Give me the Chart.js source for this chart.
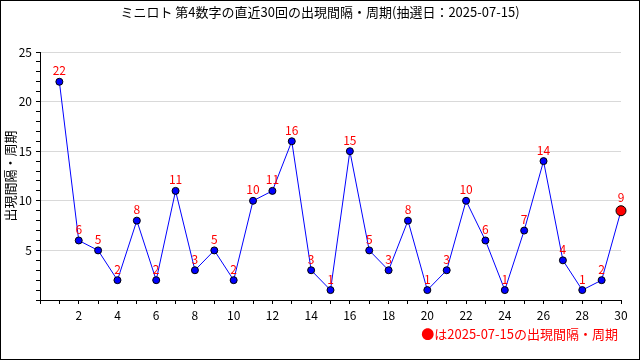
<!DOCTYPE html>
<html>
<head>
<meta charset="utf-8">
<script src="https://cdn.jsdelivr.net/npm/chart.js@4"></script>
<style>
  html, body { margin: 0; padding: 0; background: #fff; }
  #wrap { width: 640px; height: 360px; }
</style>
</head>
<body>
<div id="wrap"><canvas id="intervalChart" width="640" height="360"></canvas></div>
<script>
// 抽選回 (直近30回)
const rounds = [1, 2, 3, 4, 5, 6, 7, 8, 9, 10, 11, 12, 13, 14, 15, 16, 17, 18, 19, 20, 21, 22, 23, 24, 25, 26, 27, 28, 29, 30];
// 出現間隔・周期
const intervals = [22, 6, 5, 2, 8, 2, 11, 3, 5, 2, 10, 11, 16, 3, 1, 15, 5, 3, 8, 1, 3, 10, 6, 1, 7, 14, 4, 1, 2, 9];
const titleText = "ミニロト 第4数字の直近30回の出現間隔・周期(抽選日：2025-07-15)";
const legendText = "●は2025-07-15の出現間隔・周期";
const yTitle = "出現間隔・周期";

const FONT = '"Noto Sans CJK JP", "DejaVu Sans", sans-serif';
const lastIdx = intervals.length - 1;

// title, legend, value labels, frame
const extras = {
    id: "extras",
    afterDatasetsDraw(chart) {
        const ctx = chart.ctx;
        const meta = chart.getDatasetMeta(0);
        ctx.save();
        ctx.fillStyle = "#ff0000";
        ctx.font = "12px " + FONT;
        ctx.textAlign = "center";
        ctx.textBaseline = "bottom";
        meta.data.forEach((pt, i) => {
            const off = i === lastIdx ? 7 : 5;
            ctx.fillText(String(intervals[i]), pt.x, pt.y - off);
        });
        ctx.restore();
    },
    afterDraw(chart) {
        const ctx = chart.ctx;
        ctx.save();
        ctx.fillStyle = "#000";
        ctx.font = "13px " + FONT;
        ctx.textAlign = "center";
        ctx.textBaseline = "middle";
        ctx.fillText(titleText, 320, 12);

        ctx.fillStyle = "#ff0000";
        ctx.textAlign = "right";
        ctx.fillText(legendText, 618, 334);

        ctx.strokeStyle = "#000";
        ctx.lineWidth = 1;
        ctx.strokeRect(0.5, 0.5, 639, 359);
        ctx.restore();
    }
};

new Chart(document.getElementById("intervalChart").getContext("2d"), {
    type: "line",
    data: {
        datasets: [{
            data: rounds.map((r, i) => ({ x: r, y: intervals[i] })),
            clip: false,
            borderColor: "#0000ff",
            borderWidth: 1,
            tension: 0,
            pointBackgroundColor: intervals.map((v, i) => i === lastIdx ? "#ff0000" : "#0000ff"),
            pointBorderColor: "#000",
            pointBorderWidth: 1,
            pointRadius: intervals.map((v, i) => i === lastIdx ? 5 : 3.5)
        }]
    },
    options: {
        responsive: false,
        animation: false,
        layout: { padding: { top: 52, right: 19, bottom: 0, left: 0 } },
        plugins: { legend: { display: false }, title: { display: false }, tooltip: { enabled: false } },
        scales: {
            x: {
                type: "linear",
                min: 0,
                max: 30,
                afterFit(scale) { scale.height = 60; },
                border: { color: "#000", width: 1 },
                grid: { drawOnChartArea: false, tickLength: 4, tickColor: "#000" },
                ticks: {
                    stepSize: 1,
                    autoSkip: false,
                    maxRotation: 0,
                    padding: 4,
                    color: "#000",
                    font: { size: 12, family: FONT },
                    callback: v => (v > 0 && v % 2 === 0) ? v : ""
                }
            },
            y: {
                min: 0,
                max: 25,
                afterFit(scale) { scale.width = 40; },
                border: { color: "#000", width: 1 },
                title: {
                    display: true,
                    text: yTitle,
                    color: "#000",
                    font: { size: 13, family: FONT },
                    padding: { top: 2, bottom: 0 }
                },
                grid: {
                    tickLength: 4,
                    tickColor: "#000",
                    color: c => (c.tick && c.tick.value % 5 === 0 && c.tick.value > 0) ? "#d9d9d9" : "rgba(0,0,0,0)"
                },
                ticks: {
                    stepSize: 1,
                    autoSkip: false,
                    padding: 4,
                    color: "#000",
                    font: { size: 12, family: FONT },
                    callback: v => (v > 0 && v % 5 === 0) ? v : ""
                }
            }
        }
    },
    plugins: [extras]
});
</script>
</body>
</html>
